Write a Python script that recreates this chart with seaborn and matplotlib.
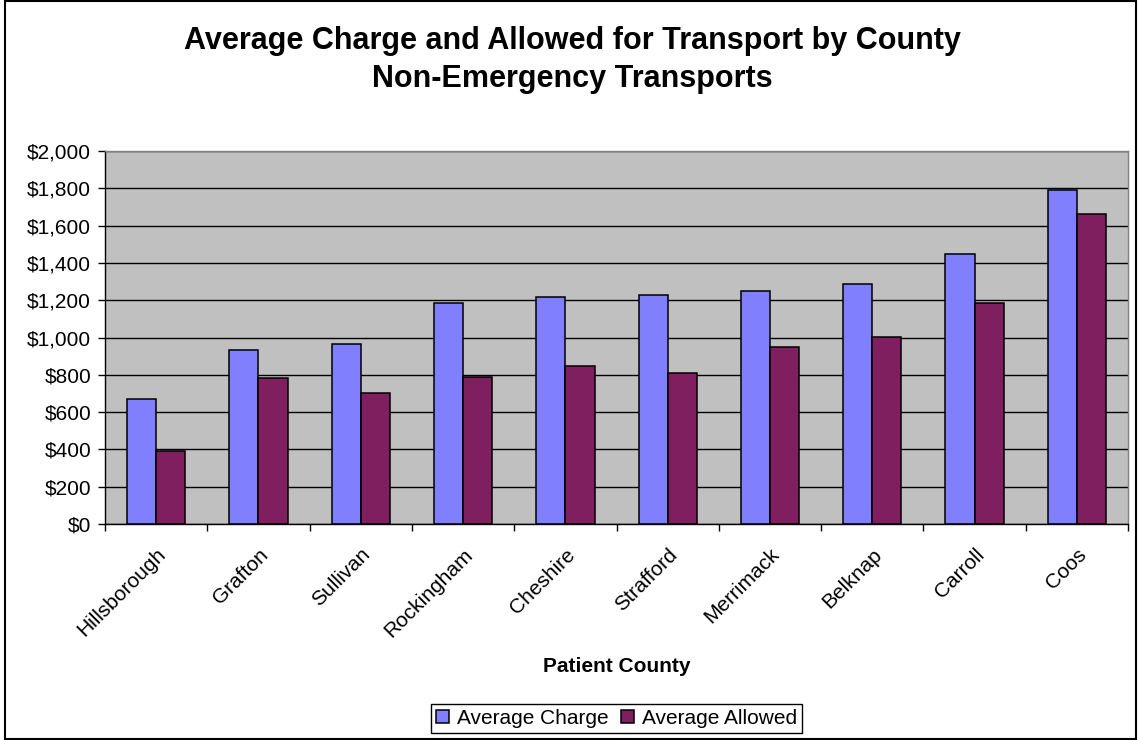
import pandas as pd
import matplotlib
matplotlib.use("Agg")
import matplotlib.pyplot as plt
from matplotlib.patches import Rectangle
from matplotlib.ticker import StrMethodFormatter, FixedLocator
import seaborn as sns

# values
counties = ['Hillsborough', 'Grafton', 'Sullivan', 'Rockingham', 'Cheshire',
            'Strafford', 'Merrimack', 'Belknap', 'Carroll', 'Coos']
avg_charge = [668, 932, 967, 1187, 1215, 1230, 1251, 1287, 1450, 1791]
avg_allowed = [390, 781, 703, 789, 845, 809, 951, 1002, 1187, 1664]
series_names = ['Average Charge', 'Average Allowed']
y_ticks = [0, 200, 400, 600, 800, 1000, 1200, 1400, 1600, 1800, 2000]

df = pd.DataFrame({
    'County': counties * 2,
    'Value': avg_charge + avg_allowed,
    'Series': [series_names[0]] * len(counties) + [series_names[1]] * len(counties),
})

sns.set_style("white")
plt.rcParams['font.family'] = ['Liberation Sans', 'DejaVu Sans']
plt.rcParams['text.color'] = 'black'
plt.rcParams['axes.labelcolor'] = 'black'
plt.rcParams['xtick.color'] = 'black'
plt.rcParams['ytick.color'] = 'black'

fig = plt.figure(figsize=(11.38, 7.40), dpi=100)
ax = fig.add_axes([0.0923, 0.2919, 0.9912 - 0.0923, 0.7959 - 0.2919])

sns.barplot(data=df, x='County', y='Value', hue='Series', order=counties,
            hue_order=series_names, palette=['#8080FF', '#801F5F'],
            width=0.57, edgecolor='black', linewidth=1.1, saturation=1,
            errorbar=None, ax=ax)

ax.set_facecolor('#C0C0C0')
ax.set_xlim(-0.5, len(counties) - 0.5)
ax.set_ylim(0, 2000)
ax.yaxis.set_major_locator(FixedLocator(y_ticks))
ax.yaxis.set_major_formatter(StrMethodFormatter('${x:,.0f}'))
ax.yaxis.grid(True, color='black', linewidth=1)
ax.set_axisbelow(True)

for side in ['top', 'right']:
    ax.spines[side].set_color('#808080')
    ax.spines[side].set_linewidth(1)
for side in ['left', 'bottom']:
    ax.spines[side].set_color('black')
    ax.spines[side].set_linewidth(1)

# category labels at centers, tick marks at category boundaries
ax.set_xticks(range(len(counties)))
ax.set_xticklabels(counties, rotation=45, ha='right', rotation_mode='anchor')
ax.set_xticks([i - 0.5 for i in range(len(counties) + 1)], minor=True)
ax.tick_params(axis='x', which='major', length=0, pad=15, labelsize=15)
ax.tick_params(axis='x', which='minor', length=5, width=1, color='black', direction='out', bottom=True)
ax.tick_params(axis='y', length=5, width=1, color='black', direction='out', left=True, pad=5, labelsize=15)

ax.set_ylabel('')
ax.set_xlabel('Patient County', fontsize=15, fontweight='bold')
ax.xaxis.label.set_va('center')
ax.xaxis.set_label_coords(0.5, -0.381)

handles, labels = ax.get_legend_handles_labels()
ax.get_legend().remove()
leg = fig.legend(handles, labels, loc='center', bbox_to_anchor=(0.542, 0.029), ncol=2,
                 fontsize=15, frameon=True, fancybox=False, framealpha=1,
                 edgecolor='black', handlelength=0.6, handleheight=0.6,
                 handletextpad=0.4, columnspacing=0.6, borderpad=0.25,
                 borderaxespad=0)
leg.get_frame().set_linewidth(1)

fig.text(0.503, 1 - 41 / 740, 'Average Charge and Allowed for Transport by County',
         ha='center', va='center', fontsize=22, fontweight='bold')
fig.text(0.503, 1 - 79 / 740, 'Non-Emergency Transports',
         ha='center', va='center', fontsize=22, fontweight='bold')

fig.patches.append(Rectangle((0.004, 0.002), 0.994, 0.996, transform=fig.transFigure,
                             fill=False, edgecolor='black', linewidth=1.5))

fig.savefig('out.png', dpi=100)
